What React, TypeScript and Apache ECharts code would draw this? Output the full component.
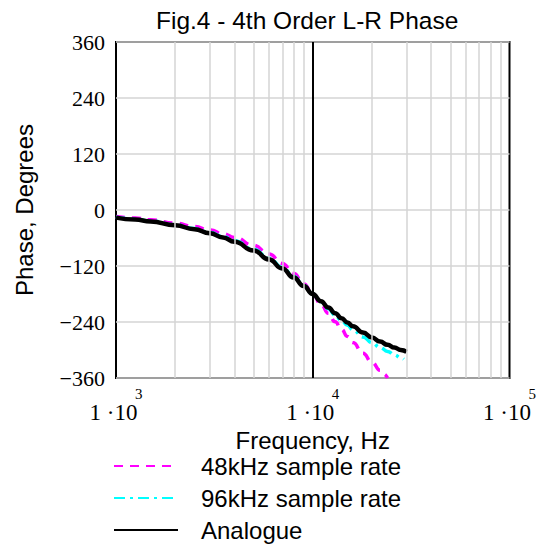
import React, { useEffect, useRef } from "react";
import * as echarts from "echarts";

const titleText = "Fig.4 - 4th Order L-R Phase";
const xName = "Frequency, Hz";
const yName = "Phase, Degrees";
const seriesNames = ["48kHz sample rate", "96kHz sample rate", "Analogue"];

const freqs48 = [1000, 1250, 1500, 2000, 2500, 3000, 3500, 4000, 5000, 6000, 7000, 8000, 9000, 10000, 11000, 12000, 13000, 14000, 15000, 16000, 18000, 20000, 22000, 23000, 24000];
const phase48 = [-13.9, -17.4, -20.9, -28.1, -35.4, -42.9, -50.7, -58.7, -75.7, -94.3, -114.4, -135.7, -157.8, -180, -201.5, -221.5, -239.6, -255.9, -271, -284.1, -306.9, -326.2, -343.6, -351.8, -360];

const freqs96 = [1000, 1250, 1500, 2000, 2500, 3000, 3500, 4000, 5000, 6000, 7000, 8000, 9000, 10000, 11000, 12000, 13000, 14000, 15000, 16000, 18000, 20000, 22000, 24000, 26000, 28000, 29000];
const phase96 = [-15.7, -19.6, -23.6, -31.7, -39.9, -48.3, -56.9, -65.7, -84.1, -103.2, -123, -142.7, -161.9, -180, -196.7, -211.7, -225, -236.9, -247.2, -256.4, -271.9, -284.3, -294.5, -303, -310.3, -316.8, -319.8];

const freqsAnalog = [1000, 1250, 1500, 2000, 2500, 3000, 3500, 4000, 5000, 6000, 7000, 8000, 9000, 10000, 11000, 12000, 13000, 14000, 15000, 16000, 18000, 20000, 22000, 24000, 26000, 28000, 30000];
const phaseAnalog = [-16.3, -20.4, -24.5, -32.8, -41.3, -50.0, -58.9, -67.9, -86.6, -106.0, -125.3, -144.7, -163.0, -180, -195.4, -209, -221.2, -231.8, -241, -249.2, -262.6, -273.4, -282, -289, -294.9, -299.9, -304.2];

const minorFreqs = [2000, 3000, 4000, 5000, 6000, 7000, 8000, 9000, 20000, 30000, 40000, 50000, 60000, 70000, 80000, 90000];
const decadeMarks = [10000];

const SANS = "Liberation Sans, Arial, sans-serif";
const SERIF = "Liberation Serif, Times New Roman, serif";

function pairs(xs: number[], ys: number[]) {
  return xs.map((x, i) => [x, ys[i]]);
}

export default function App() {
  const ref = useRef<HTMLDivElement>(null);
  useEffect(() => {
    if (!ref.current) return;
    const chart = echarts.init(ref.current, undefined, { renderer: "svg" });
    chart.setOption({
      animation: false,
      backgroundColor: "#ffffff",
      title: {
        text: titleText,
        left: 151,
        top: 3,
        textStyle: { fontFamily: SANS, fontSize: 24.5, fontWeight: "normal", color: "#000" },
      },
      legend: {
        orient: "vertical",
        left: 113,
        top: 454,
        height: 92,
        padding: 0,
        itemWidth: 64,
        itemHeight: 12,
        itemGap: 8,
        data: seriesNames,
        itemStyle: { opacity: 0 },
        textStyle: { fontFamily: SANS, fontSize: 24, color: "#000", padding: [0, 0, 0, 18] },
      },
      grid: {
        left: 116,
        right: 29,
        top: 42,
        bottom: 168,
        show: true,
        borderColor: "#000",
        borderWidth: 2,
      },
      xAxis: {
        type: "log",
        logBase: 10,
        min: 1000,
        max: 100000,
        name: xName,
        nameLocation: "middle",
        nameGap: 46,
        nameTextStyle: { fontFamily: SANS, fontSize: 24, color: "#000", verticalAlign: "top" },
        axisLine: { show: false },
        axisTick: { show: false },
        splitLine: { show: false },
        axisLabel: {
          margin: 9,
          formatter: (v: number) => `{e|${Math.round(Math.log10(v))}}\n{m|1 ·10}`,
          rich: {
            e: { fontFamily: SERIF, fontSize: 15, color: "#000", lineHeight: 14, width: 53, align: "right" },
            m: { fontFamily: SERIF, fontSize: 23, color: "#000", lineHeight: 23, width: 53, align: "left" },
          },
        },
      },
      yAxis: {
        type: "value",
        min: -360,
        max: 360,
        interval: 120,
        name: yName,
        nameLocation: "middle",
        nameGap: 80,
        nameTextStyle: { fontFamily: SANS, fontSize: 24, color: "#000" },
        axisLine: { show: false },
        axisTick: { show: false },
        splitLine: { show: true, lineStyle: { color: "#d4d4d4", width: 1.5 } },
        axisLabel: {
          margin: 11,
          fontFamily: SERIF,
          fontSize: 22,
          color: "#000",
          formatter: (v: number) => (v < 0 ? "\u2212" + Math.abs(v) : String(v)),
        },
      },
      series: [
        {
          name: "grid-lines",
          type: "line",
          data: [],
          silent: true,
          z: 1,
          markLine: {
            silent: true,
            symbol: "none",
            label: { show: false },
            animation: false,
            data: [
              ...minorFreqs.map((f) => ({ xAxis: f, lineStyle: { color: "#d4d4d4", width: 1.5, type: "solid" } })),
              ...decadeMarks.map((f) => ({ xAxis: f, lineStyle: { color: "#000", width: 2, type: "solid" } })),
            ],
          },
        },
        {
          name: seriesNames[0],
          type: "line",
          data: pairs(freqs48, phase48),
          symbol: "none",
          smooth: true,
          smoothMonotone: "x",
          z: 3,
          lineStyle: { color: "#ff00ff", width: 3.5, type: [9, 7] },
          itemStyle: { color: "#ff00ff" },
        },
        {
          name: seriesNames[1],
          type: "line",
          data: pairs(freqs96, phase96),
          symbol: "none",
          smooth: true,
          smoothMonotone: "x",
          z: 3,
          lineStyle: { color: "#00ffff", width: 3.5, type: [11, 5, 3, 5] },
          itemStyle: { color: "#00ffff" },
        },
        {
          name: seriesNames[2],
          type: "line",
          data: pairs(freqsAnalog, phaseAnalog),
          symbol: "none",
          smooth: true,
          smoothMonotone: "x",
          z: 3,
          lineStyle: { color: "#000", width: 4.5, type: "solid" },
          itemStyle: { color: "#000" },
        },
      ],
    });
    return () => chart.dispose();
  }, []);
  return (
    <div
      ref={ref}
      style={{ position: "absolute", left: 0, top: 0, width: 539, height: 546, background: "#fff" }}
    />
  );
}
